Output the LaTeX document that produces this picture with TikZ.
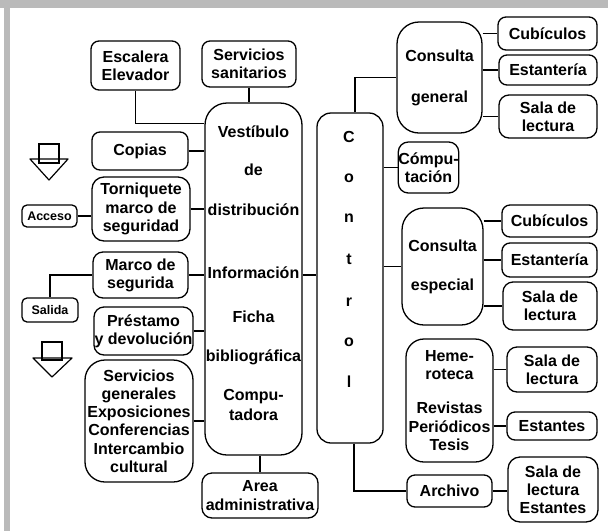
\documentclass[tikz,border=0pt]{standalone}
\usepackage{fontspec}
\setmainfont{Liberation Sans}
\newcommand\fs{\fontsize{16}{18.2}\selectfont\bfseries}
\newcommand\fss{\fontsize{12.5}{13}\selectfont\bfseries}
\newcommand\bxn[7][8pt]{\node[bx, rounded corners=#1, minimum width={#4pt-#2pt}, minimum height={#5pt-#3pt}] (#6) at ({(#2+#4)/2},{(#3+#5)/2}) {#7};}
\tikzset{
  bx/.style={draw, line width=1.3pt, align=center, inner sep=0pt, font=\fs},
  ln/.style={line width=1.2pt},
  tx/.style={inner sep=0pt, font=\fs},
  frame/.style={fill=black!27, draw=none}
}
\begin{document}
\begin{tikzpicture}[x=1pt,y=-1pt]
\useasboundingbox (0,0) rectangle (608,531);
\fill[white] (0,0) rectangle (608,531);
\fill[frame] (0,0) rectangle (608,8);
\fill[frame] (4,0) rectangle (10,531);

% left column
\bxn{91}{41}{180}{90}{esc}{Escalera\\Elevador}
\bxn{202}{41}{296}{87}{san}{Servicios\\sanitarios}
\bxn[22pt]{205}{103}{302}{455}{vest}{}
\bxn{92}{132}{188}{170}{cop}{Copias}
\bxn[12pt]{92}{177}{190}{241}{torn}{Torniquete\\marco de\\seguridad}
\bxn[5pt]{22}{205}{77}{227}{acc}{\fss Acceso}
\bxn[10pt]{93}{252}{188}{298}{marco}{Marco de\\segurida}
\bxn[5pt]{22}{298}{78}{322}{sal}{\fss Salida}
\bxn[10pt]{94}{307}{193}{355}{prest}{Préstamo\\y devolución}
\bxn[20pt]{85}{360}{193}{482}{servg}{Servicios\\generales\\Exposiciones\\Conferencias\\Intercambio\\cultural}
\bxn[10pt]{202}{473}{318}{518}{adm}{Area\\administrativa}

% vestibulo texts
\node[tx] (v1) at (253.5,132) {Vestíbulo};
\node[tx] (v2) at (253.5,170) {de};
\node[tx] (v3) at (253.5,210) {distribución};
\node[tx] (v4) at (253.5,273) {Información};
\node[tx] (v5) at (253.5,317) {Ficha};
\node[tx] (v6) at (253.5,357) {bibliográfica};
\node[tx] (v7) at (253.5,397) {Compu-};
\node[tx] (v8) at (253.5,415) {tadora};

% control
\bxn[14pt]{317}{113}{383}{443}{ctrl}{}
\node[tx] (c1) at (349,137) {C};
\node[tx] (c2) at (349,178) {o};
\node[tx] (c3) at (349,218) {n};
\node[tx] (c4) at (349,259) {t};
\node[tx] (c5) at (349,302) {r};
\node[tx] (c6) at (349,342) {o};
\node[tx] (c7) at (349,382) {l};

% right side
\bxn[22pt]{397}{22}{482}{133}{cg}{Consulta\\[23pt]general}
\bxn{498}{17}{597}{50}{cub1}{Cubículos}
\bxn{499}{55}{597}{85}{est1}{Estantería}
\bxn[10pt]{499}{95}{597}{138}{sala1}{Sala de\\lectura}
\bxn[10pt]{399}{142}{458}{193}{comp}{Cómpu-\\tación}
\bxn[22pt]{402}{208}{483}{325}{ce}{Consulta\\[21pt]especial}
\bxn{502}{205}{597}{237}{cub2}{Cubículos}
\bxn{502}{243}{597}{277}{est2}{Estantería}
\bxn[10pt]{503}{282}{597}{330}{sala2}{Sala de\\lectura}
\bxn[18pt]{406}{339}{493}{462}{hem}{Heme-\\roteca\\[16pt]Revistas\\Periódicos\\Tesis}
\bxn[10pt]{507}{347}{597}{392}{sala3}{Sala de\\lectura}
\bxn{507}{412}{597}{440}{estan}{Estantes}
\bxn{407}{475}{492}{507}{arch}{Archivo}
\bxn[12pt]{508}{457}{598}{522}{sala4}{Sala de\\lectura\\Estantes}

% connectors left
\draw[ln] (esc.south) |- ([yshift=-21pt]vest.north west);
\draw[ln] (san.south) -- (san.south |- vest.north);
\draw[ln] (cop.east) -- (cop.east -| vest.west);
\draw[ln] (torn.east) -- (torn.east -| vest.west);
\draw[ln] (acc.east) -- (acc.east -| torn.west);
\draw[ln] (marco.east) -- (marco.east -| vest.west);
\draw[ln] (sal.north) |- (marco.west);
\draw[ln] (prest.east) -- (prest.east -| vest.west);
\draw[ln] (servg.east) -- (servg.east -| vest.west);
\draw[ln] (adm.north) -- (adm.north |- vest.south);
\draw[ln] ([yshift=4pt]vest.east) -- ([yshift=4pt]vest.east -| ctrl.west);

% connectors right
\draw[ln] ([xshift=5pt]ctrl.north) |- (cg.west);
\draw[ln] (cub1.west -| cg.east) -- (cub1.west);
\draw[ln] (est1.west -| cg.east) -- (est1.west);
\draw[ln] (sala1.west -| cg.east) -- (sala1.west);
\draw[ln] (comp.west -| ctrl.east) -- (comp.west);
\draw[ln] (ce.west -| ctrl.east) -- (ce.west);
\draw[ln] (cub2.west -| ce.east) -- (cub2.west);
\draw[ln] (est2.west -| ce.east) -- (est2.west);
\draw[ln] (sala2.west -| ce.east) -- (sala2.west);
\draw[ln] (sala3.west -| hem.east) -- (sala3.west);
\draw[ln] (estan.west -| hem.east) -- (estan.west);
\draw[ln] ([xshift=4pt]ctrl.south) |- (arch.west);
\draw[ln] (arch.east) -- (arch.east -| sala4.west);

% direction symbols
\draw[ln] (39,144) rectangle (59,163);
\draw[ln, line join=round] (30,159) -- (68,159) -- (49,180) -- cycle;
\draw[ln] (42,342) rectangle (62,360);
\draw[ln, line join=round] (33,358) -- (72,358) -- (52,377) -- cycle;
\end{tikzpicture}
\end{document}
